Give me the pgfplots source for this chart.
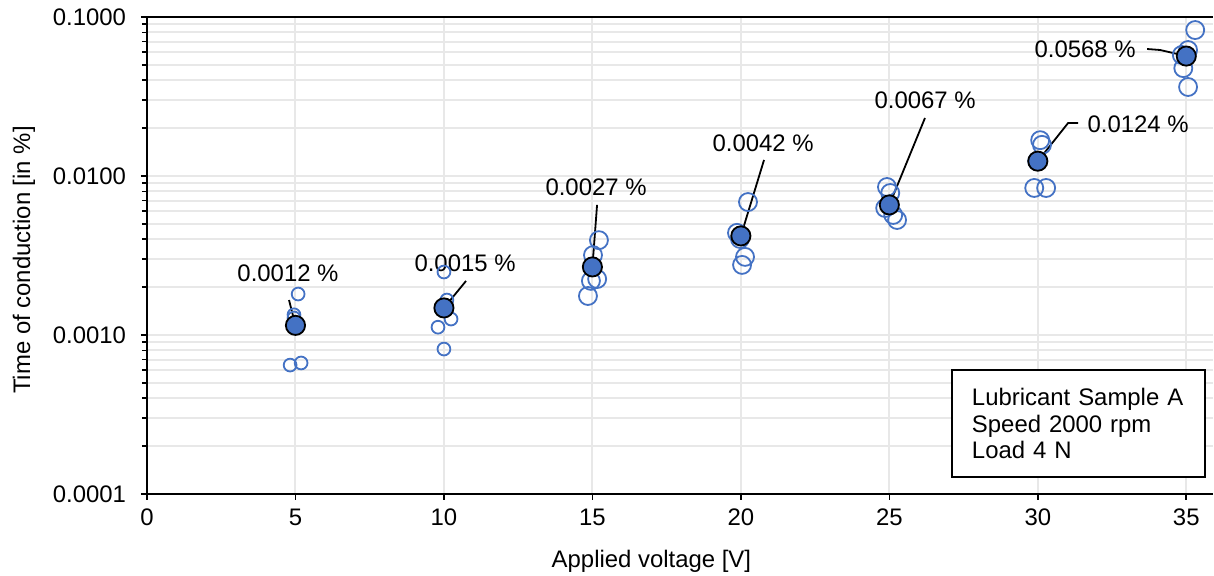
\documentclass[border=0pt]{standalone}
\usepackage{pgfplots}
\pgfplotsset{compat=1.18}
\usepackage{fontspec}
\setmainfont{Liberation Sans}
\definecolor{xlblue}{RGB}{68,114,196}
\definecolor{gridc}{RGB}{232,232,232}
\begin{document}
\begin{tikzpicture}
\begin{axis}[
  scale only axis,
  width=533bp, height=238.5bp,
  xmin=0, xmax=35.9,
  ymode=log, ymin=1e-4, ymax=1e-1,
  axis x line=box, axis y line=left,
  x axis line style={-, line width=1.2bp},
  y axis line style={-, line width=1.2bp},
  xtick pos=bottom,
  tick align=outside,
  major tick length=3bp, minor tick length=2.5bp,
  tick style={black, line width=0.8bp},
  xtick={0,5,10,15,20,25,30,35},
  xticklabels={0,5,10,15,20,25,30,35},
  ytick={1e-4,1e-3,1e-2,1e-1},
  yticklabels={0.0001,0.0010,0.0100,0.1000},
  font=\fontsize{12}{14}\selectfont,
  ticklabel style={font=\fontsize{12}{14}\selectfont},
  yticklabel style={xshift=-4bp},
  xticklabel style={yshift=-1bp},
  xmajorgrids, ymajorgrids, yminorgrids,
  major grid style={gridc, line width=1bp},
  minor grid style={gridc, line width=1bp},
  xlabel={Applied voltage [V]},
  ylabel={Time of conduction [in \%]},
  every axis x label/.style={at={(axis description cs:0.4732,-0.1405)}, anchor=center},
  every axis y label/.style={at={(axis description cs:-0.1155,0.4906)}, anchor=center, rotate=90},
  clip=false,
]
\addplot[only marks, mark=o, mark size=3.2bp, mark options={draw=xlblue, line width=0.9bp}] coordinates {
(5.09,0.00181) (4.95,0.00134) (4.95,0.00128) (4.82,0.000647) (5.19,0.000667)
(10.0,0.00249) (10.1,0.00166) (10.24,0.00126) (9.8,0.00112) (10.0,0.000816)
};
\addplot[only marks, mark=o, mark size=4.5bp, mark options={draw=xlblue, line width=0.9bp}] coordinates {
(15.22,0.00395) (15.02,0.00318) (14.95,0.00219) (15.16,0.00225) (14.85,0.00176)
(20.24,0.00686) (19.87,0.00439) (19.97,0.00402) (20.14,0.00310) (20.04,0.00276)
(24.92,0.00853) (25.03,0.00782) (24.86,0.00629) (25.13,0.00569) (25.26,0.00529)
(30.08,0.0168) (30.14,0.0157) (29.98,0.0124) (29.88,0.00841) (30.28,0.00841)
(35.3,0.0828) (35.06,0.0620) (34.9,0.0477) (35.06,0.0363) (34.85,0.0577)
};
\addplot[only marks, mark=*, mark size=4.8bp, mark options={draw=black, fill=xlblue, line width=0.9bp}] coordinates {
(5,0.00115) (10,0.00148) (15,0.00268) (20,0.0042) (25,0.00658) (30,0.0124) (35,0.0568)
};
\draw[black, line width=0.9bp] (axis cs:4.783,0.001660) -- (axis cs:5,0.00115);
\draw[black, line width=0.9bp] (axis cs:10.744,0.002188) -- (axis cs:10,0.00148);
\draw[black, line width=0.9bp] (axis cs:15.157,0.006577) -- (axis cs:15,0.00268);
\draw[black, line width=0.9bp] (axis cs:20.78,0.01262) -- (axis cs:20,0.0042);
\draw[black, line width=0.9bp] (axis cs:26.20,0.02317) -- (axis cs:25,0.00658);
\draw[black, line width=0.9bp] (axis cs:31.357,0.02154) -- (axis cs:31.02,0.02154) -- (axis cs:30,0.0124);
\draw[black, line width=0.9bp] (axis cs:33.68,0.06292) -- (axis cs:34.12,0.06201) -- (axis cs:35,0.0568);
\node[inner sep=0pt, anchor=center] at (axis cs:4.749,0.002455) {0.0012 \%};
\node[inner sep=0pt, anchor=center] at (axis cs:10.711,0.002837) {0.0015 \%};
\node[inner sep=0pt, anchor=center] at (axis cs:15.123,0.008531) {0.0027 \%};
\node[inner sep=0pt, anchor=center] at (axis cs:20.748,0.01612) {0.0042 \%};
\node[inner sep=0pt, anchor=center] at (axis cs:26.204,0.03006) {0.0067 \%};
\node[inner sep=0pt, anchor=center] at (axis cs:33.378,0.02123) {0.0124 \%};
\node[inner sep=0pt, anchor=center] at (axis cs:31.593,0.06292) {0.0568 \%};
\node[draw=black, line width=0.8bp, fill=white, minimum width=126.5bp, minimum height=53.5bp,
  text width=106.5bp, inner xsep=10bp, align=left, anchor=center,
  font=\fontsize{12}{13.5}\selectfont] at (rel axis cs:0.8738,0.1478)
  {Lubricant Sample A\\Speed 2000 rpm\\Load 4 N};
\end{axis}
\pgfresetboundingbox
\useasboundingbox ([xshift=-73.5bp, yshift=-41bp]current axis.south west) rectangle ([xshift=0.5bp, yshift=8.5bp]current axis.north east);
\end{tikzpicture}
\end{document}
